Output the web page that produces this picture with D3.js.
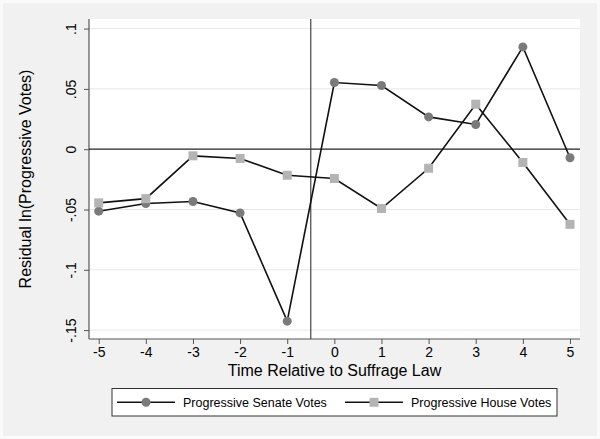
<!DOCTYPE html>
<html>
<head>
<meta charset="utf-8">
<script src="https://cdn.jsdelivr.net/npm/d3@7"></script>
<style>
  body { margin: 0; background: #fafafa; }
  svg { display: block; font-family: "Liberation Sans", Arial, sans-serif; }
</style>
</head>
<body>
<div id="chart"></div>
<script>
// values
var years = [-5, -4, -3, -2, -1, 0, 1, 2, 3, 4, 5];
var senate = [-0.0514, -0.045, -0.0434, -0.0528, -0.1426, 0.0553, 0.0528, 0.0268, 0.0205, 0.0848, -0.0071];
var house = [-0.0445, -0.041, -0.0055, -0.0077, -0.0216, -0.0243, -0.0492, -0.0158, 0.0373, -0.011, -0.0623];
var yTicks = [-0.15, -0.1, -0.05, 0, 0.05, 0.1];
var yTickLabels = ["-.15", "-.1", "-.05", "0", ".05", ".1"];
var seriesNames = ["Progressive Senate Votes", "Progressive House Votes"];

var width = 600, height = 439;
var plotL = 89, plotR = 580, plotT = 19, plotB = 339;

var svg = d3.select("#chart").append("svg")
  .attr("width", width)
  .attr("height", height);

// outer background
svg.append("rect")
  .attr("x", 3).attr("y", 3)
  .attr("width", width - 6).attr("height", height - 6)
  .attr("fill", "#f1f1f1");

// plot region
svg.append("rect")
  .attr("x", plotL).attr("y", plotT)
  .attr("width", plotR - plotL).attr("height", plotB - plotT)
  .attr("fill", "#ffffff");

var x = d3.scaleLinear().domain([-5, 5]).range([98.7, 570]);
var y = d3.scaleLinear().domain([0, 0.1]).range([149.2, 28.6]);

// gridlines
svg.append("g").selectAll("line")
  .data(yTicks.filter(d => d != 0))
  .enter().append("line")
    .attr("x1", plotL).attr("x2", plotR)
    .attr("y1", d => y(d)).attr("y2", d => y(d))
    .attr("stroke", "#e8e8e8")
    .attr("stroke-width", 1);

// y axis
var yAxis = d3.axisLeft(y)
  .tickValues(yTicks)
  .tickFormat((d, i) => yTickLabels[i])
  .tickSize(5)
  .tickSizeOuter(0);

var gy = svg.append("g")
  .attr("transform", "translate(" + plotL + ",0)")
  .call(yAxis);
gy.select(".domain").remove();
gy.append("line")
  .attr("x1", 0).attr("x2", 0).attr("y1", plotT).attr("y2", plotB)
  .attr("stroke", "#555").attr("stroke-width", 1.2);
gy.selectAll(".tick line").attr("stroke", "#555");
gy.selectAll(".tick text")
  .attr("font-size", 14)
  .attr("fill", "#000")
  .attr("text-anchor", "middle")
  .attr("x", null).attr("dy", null)
  .attr("transform", "translate(-13,0) rotate(-90)");

// x axis
var xAxis = d3.axisBottom(x)
  .tickValues(years)
  .tickFormat(d => String(d))
  .tickSize(5)
  .tickSizeOuter(0);

var gx = svg.append("g")
  .attr("transform", "translate(0," + plotB + ")")
  .call(xAxis);
gx.select(".domain").remove();
gx.append("line")
  .attr("x1", plotL).attr("x2", plotR).attr("y1", 0).attr("y2", 0)
  .attr("stroke", "#555").attr("stroke-width", 1.2);
gx.selectAll(".tick line").attr("stroke", "#555");
gx.selectAll(".tick text")
  .attr("font-size", 14)
  .attr("fill", "#000")
  .attr("y", 8);

// reference lines
svg.append("line")
  .attr("x1", plotL).attr("x2", plotR)
  .attr("y1", y(0)).attr("y2", y(0))
  .attr("stroke", "#222").attr("stroke-width", 1.3);
svg.append("line")
  .attr("x1", x(-0.5)).attr("x2", x(-0.5))
  .attr("y1", plotT).attr("y2", plotB)
  .attr("stroke", "#333").attr("stroke-width", 1.1);

// series lines
var line = d3.line()
  .x((d, i) => x(years[i]))
  .y(d => y(d));

svg.append("path")
  .datum(senate)
  .attr("d", line)
  .attr("fill", "none")
  .attr("stroke", "#111")
  .attr("stroke-width", 1.6);

svg.append("path")
  .datum(house)
  .attr("d", line)
  .attr("fill", "none")
  .attr("stroke", "#111")
  .attr("stroke-width", 1.6);

// markers
svg.append("g").selectAll("circle")
  .data(senate)
  .enter().append("circle")
    .attr("cx", (d, i) => x(years[i]))
    .attr("cy", d => y(d))
    .attr("r", 4.5)
    .attr("fill", "#7a7a7a");

svg.append("g").selectAll("rect")
  .data(house)
  .enter().append("rect")
    .attr("x", (d, i) => x(years[i]) - 4.5)
    .attr("y", d => y(d) - 4.5)
    .attr("width", 9).attr("height", 9)
    .attr("fill", "#b4b4b4");

// axis titles
svg.append("text")
  .attr("x", (plotL + plotR) / 2)
  .attr("y", 376)
  .attr("text-anchor", "middle")
  .attr("font-size", 16)
  .text("Time Relative to Suffrage Law");

svg.append("text")
  .attr("transform", "translate(31," + (plotT + plotB) / 2 + ") rotate(-90)")
  .attr("text-anchor", "middle")
  .attr("font-size", 16)
  .text("Residual ln(Progressive Votes)");

// legend
var legend = svg.append("g");
legend.append("rect")
  .attr("x", 112).attr("y", 388.5)
  .attr("width", 445).attr("height", 27.5)
  .attr("fill", "#ffffff")
  .attr("stroke", "#333").attr("stroke-width", 1);

var legendItems = [
  { name: seriesNames[0], x0: 117, shape: "circle", fill: "#7a7a7a" },
  { name: seriesNames[1], x0: 345, shape: "square", fill: "#b4b4b4" }
];
legendItems.forEach(function(it) {
  var ly = 402.3;
  legend.append("line")
    .attr("x1", it.x0).attr("x2", it.x0 + 58)
    .attr("y1", ly).attr("y2", ly)
    .attr("stroke", "#111").attr("stroke-width", 1.6);
  if (it.shape == "circle") {
    legend.append("circle")
      .attr("cx", it.x0 + 29).attr("cy", ly).attr("r", 4.5)
      .attr("fill", it.fill);
  } else {
    legend.append("rect")
      .attr("x", it.x0 + 29 - 4.5).attr("y", ly - 4.5)
      .attr("width", 9).attr("height", 9)
      .attr("fill", it.fill);
  }
  legend.append("text")
    .attr("x", it.x0 + 66)
    .attr("y", ly + 4.5)
    .attr("font-size", 12.5)
    .text(it.name);
});
</script>
</body>
</html>
